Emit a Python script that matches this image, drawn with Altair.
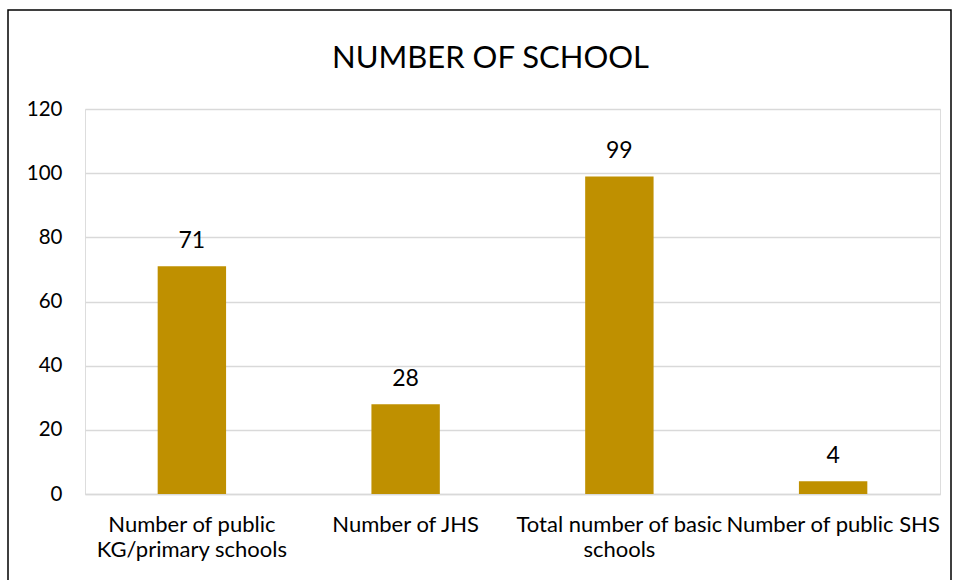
import altair as alt
import pandas as pd

categories = ["Number of public\nKG/primary schools", "Number of JHS",
              "Total number of basic\nschools", "Number of public SHS"]
values = [71, 28, 99, 4]
y_ticks = [0, 20, 40, 60, 80, 100, 120]

df = pd.DataFrame({"category": categories, "value": values})
FONT = "Lato"

x = alt.X("category:N", sort=categories, title=None,
          scale=alt.Scale(paddingInner=0.68, paddingOuter=0.34),
          axis=alt.Axis(labelExpr="split(datum.label, '\\n')", labelAngle=0,
                        labelFontSize=22, labelFont=FONT, labelColor="#000000",
                        labelPadding=20, labelLineHeight=25, labelOverlap=False,
                        labelBaseline="top", labelLimit=0,
                        ticks=False, domainColor="#D9D9D9", domainWidth=1.3,
                        grid=False))
y = alt.Y("value:Q", title=None,
          scale=alt.Scale(domain=[0, 120], nice=False),
          axis=alt.Axis(values=y_ticks, labelFontSize=20.5, labelFont=FONT,
                        labelColor="#000000", labelPadding=23, ticks=False,
                        domain=False, gridColor="#D9D9D9", gridWidth=1.3))

frame = alt.Chart(pd.DataFrame({"a": [0]})).mark_rect(
    fill=None, stroke="#000000", strokeWidth=1.5).encode(
    x=alt.value(-77), x2=alt.value(866), y=alt.value(-99), y2=alt.value(490))

bars = alt.Chart(df).mark_bar(color="#BF9000").encode(x=x, y=y)
labels = alt.Chart(df).mark_text(baseline="bottom", dy=-13, fontSize=23,
                                 font=FONT, color="#000000").encode(
    x=alt.X("category:N", sort=categories), y="value:Q", text="value:Q")

chart = alt.layer(frame, bars, labels).properties(
    width=855, height=385,
    title=alt.TitleParams("NUMBER OF SCHOOL", fontSize=31, font=FONT,
                          fontWeight="normal", color="#000000",
                          anchor="middle", offset=-58, dx=-22, dy=39,
                          baseline="bottom"),
    autosize=alt.AutoSizeParams(type="none"),
    padding={"left": 85, "top": 109, "right": 14, "bottom": 86},
).configure_view(stroke=None).configure(background="white")

chart.save("out.html", embed_options={"renderer": "svg", "actions": False})
